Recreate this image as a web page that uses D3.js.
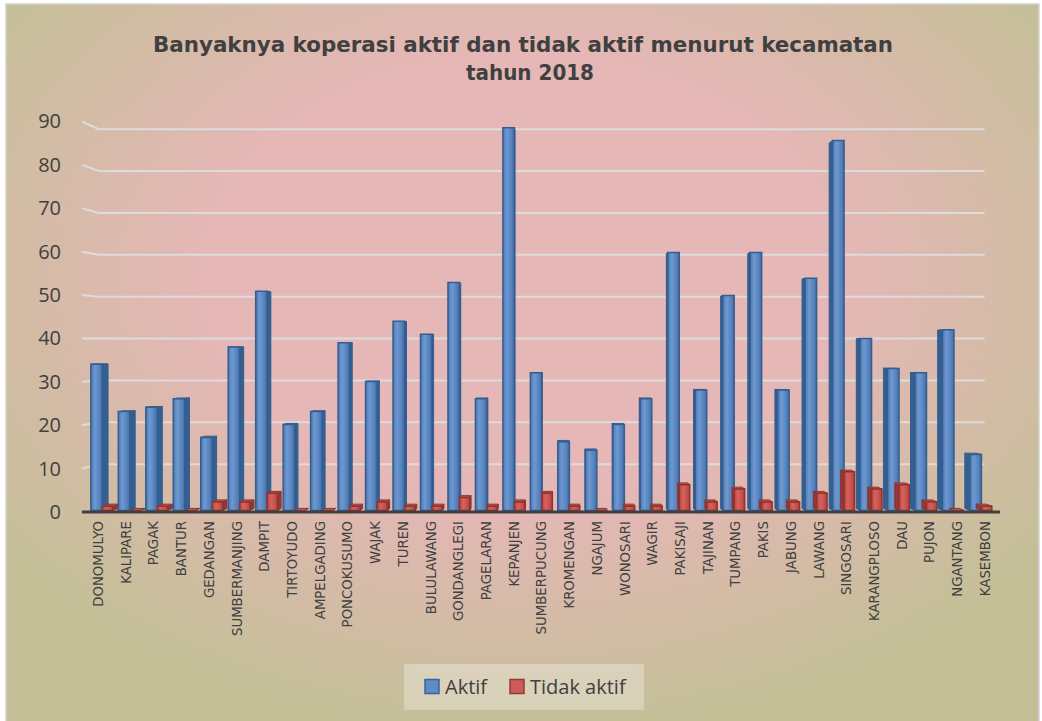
<!DOCTYPE html>
<html>
<head>
<meta charset="utf-8">
<script src="https://cdn.jsdelivr.net/npm/d3@7"></script>
<style>
  body { margin: 0; background: #fff; }
  text { font-family: "Open Sans", "DejaVu Sans", sans-serif; fill: #404040; }
</style>
</head>
<body>
<svg width="1042" height="721"></svg>
<script>
var kecamatan = ["DONOMULYO","KALIPARE","PAGAK","BANTUR","GEDANGAN","SUMBERMANJING","DAMPIT",
  "TIRTOYUDO","AMPELGADING","PONCOKUSUMO","WAJAK","TUREN","BULULAWANG","GONDANGLEGI",
  "PAGELARAN","KEPANJEN","SUMBERPUCUNG","KROMENGAN","NGAJUM","WONOSARI","WAGIR","PAKISAJI",
  "TAJINAN","TUMPANG","PAKIS","JABUNG","LAWANG","SINGOSARI","KARANGPLOSO","DAU","PUJON",
  "NGANTANG","KASEMBON"];
var aktif = [34,23,24,26,17,38,51,20,23,39,30,44,41,53,26,89,32,16,14,20,26,60,28,50,60,28,54,86,40,33,32,42,13];
var tidakAktif = [1,0,1,0,2,2,4,0,0,1,2,1,1,3,1,2,4,1,0,1,1,6,2,5,2,2,4,9,5,6,2,0,1];
var yTicks = [0,10,20,30,40,50,60,70,80,90];
var seriesNames = ["Aktif", "Tidak aktif"];

var width = 1042, height = 721;
var svg = d3.select("svg");

// simple perspective: vanishing point + depth factor
var CX = 560, CY = 341, K = 0.035;
function proj(X, Y, t) {
  var s = 1 - K * t;
  return [CX + (X - CX) * s, CY + (Y - CY) * s];
}

var x = d3.scaleBand().domain(kecamatan).range([84.5, 999]);
var y = d3.scaleLinear().domain([0, 90]).range([512, 121.5]);

var defs = svg.append("defs");
var bg = defs.append("radialGradient").attr("id", "bg")
  .attr("cx", "0.5").attr("cy", "0.38").attr("r", "0.62");
bg.append("stop").attr("offset", "0").attr("stop-color", "#e6b7b7");
bg.append("stop").attr("offset", "0.5").attr("stop-color", "#e5b7b6");
bg.append("stop").attr("offset", "1").attr("stop-color", "#c5bf98");

function barGrad(id, c0, c1, c2, c3) {
  var g = defs.append("linearGradient").attr("id", id);
  g.append("stop").attr("offset", "0").attr("stop-color", c0);
  g.append("stop").attr("offset", "0.35").attr("stop-color", c1);
  g.append("stop").attr("offset", "0.7").attr("stop-color", c2);
  g.append("stop").attr("offset", "1").attr("stop-color", c3);
}
barGrad("gBlue", "#4d79b3", "#6e98d0", "#5985c0", "#4470a8");
barGrad("gRed", "#b9443f", "#d6625e", "#c9524e", "#b3403b");

svg.append("rect")
  .attr("x", 6).attr("y", 4).attr("width", 1033).attr("height", 720)
  .attr("fill", "url(#bg)")
  .attr("stroke", "#d4d4d4").attr("stroke-width", 1.5);

// title
svg.append("text")
  .attr("x", 523).attr("y", 52)
  .attr("text-anchor", "middle")
  .style("font-family", "'DejaVu Sans Condensed', 'DejaVu Sans', sans-serif")
  .style("font-stretch", "condensed")
  .style("font-size", "22px").style("font-weight", "bold")
  .attr("textLength", 740).attr("lengthAdjust", "spacingAndGlyphs")
  .text("Banyaknya koperasi aktif dan tidak aktif menurut kecamatan");
svg.append("text")
  .attr("x", 530).attr("y", 80)
  .attr("text-anchor", "middle")
  .style("font-family", "'DejaVu Sans Condensed', 'DejaVu Sans', sans-serif")
  .style("font-stretch", "condensed")
  .style("font-size", "22px").style("font-weight", "bold")
  .attr("textLength", 128).attr("lengthAdjust", "spacingAndGlyphs")
  .text("tahun 2018");

// gridlines on back wall + left side wall
var grid = svg.append("g");
yTicks.filter(function (d) { return d > 0; }).forEach(function (v) {
  var f = [82, y(v)], b = proj(82, y(v), 1), e = proj(1000, y(v), 1);
  grid.append("polyline")
    .attr("points", [f, b, e].map(function (p) { return p.join(","); }).join(" "))
    .attr("fill", "none").attr("stroke", "#dcdcdc").attr("stroke-width", 2);
});

// y axis labels
var yAxis = svg.append("g")
  .attr("transform", "translate(61,0)")
  .call(d3.axisLeft(y).tickValues(yTicks).tickSize(0).tickPadding(0));
yAxis.select(".domain").remove();
yAxis.selectAll("text").style("font-size", "20px").attr("fill", "#404040")
  .style("font-family", "'Open Sans', sans-serif");

// bars
var T0 = 0.25, T1 = 0.6;
function pts(a) { return a.map(function (p) { return p.join(","); }).join(" "); }
function drawBox(g, X0, X1, v, front, side, top, edge) {
  var yb = y(0), yt = y(v);
  var midX = (X0 + X1) / 2;
  var sx = midX < CX ? X1 : X0;
  g.append("polygon")
    .attr("points", pts([proj(sx, yt, T0), proj(sx, yt, T1), proj(sx, yb, T1), proj(sx, yb, T0)]))
    .attr("fill", side).attr("stroke", edge).attr("stroke-width", 1);
  if (yt > CY) {
    g.append("polygon")
      .attr("points", pts([proj(X0, yt, T0), proj(X1, yt, T0), proj(X1, yt, T1), proj(X0, yt, T1)]))
      .attr("fill", top).attr("stroke", edge).attr("stroke-width", 1);
  }
  if (v > 0) {
    g.append("polygon")
      .attr("points", pts([proj(X0, yt, T0), proj(X1, yt, T0), proj(X1, yb, T0), proj(X0, yb, T0)]))
      .attr("fill", front).attr("stroke", edge).attr("stroke-width", 1.5);
  }
}

var bars = svg.append("g");
kecamatan.forEach(function (k, i) {
  var bx = x(k), bw = x.bandwidth();
  drawBox(bars, bx + bw * 0.08, bx + bw * 0.5, aktif[i], "url(#gBlue)", "#345f93", "#5b87c2", "#355d8e");
  drawBox(bars, bx + bw * 0.5, bx + bw * 0.88, tidakAktif[i], "url(#gRed)", "#963733", "#c75652", "#8b3531");
});

// floor front edge
svg.append("line")
  .attr("x1", 82).attr("x2", 1000).attr("y1", 512).attr("y2", 512)
  .attr("stroke", "#404040").attr("stroke-width", 3);

// x labels
var xAxis = svg.append("g")
  .attr("transform", "translate(0,521)")
  .call(d3.axisBottom(x).tickSize(0).tickPadding(0));
xAxis.select(".domain").remove();
xAxis.selectAll("text")
  .attr("transform", "rotate(-90)")
  .attr("x", 0).attr("y", 0).attr("dy", "0.35em")
  .style("text-anchor", "end")
  .style("font-size", "13.3px").attr("fill", "#404040")
  .style("font-family", "'DejaVu Sans', sans-serif");

// legend
var legend = svg.append("g");
legend.append("rect")
  .attr("x", 404).attr("y", 664).attr("width", 240).attr("height", 46)
  .attr("fill", "#ffffff").attr("fill-opacity", 0.3);
var legendX = [425, 510];
var legendFill = ["#5f8bc7", "#cd5b57"];
var legendEdge = ["#3a6496", "#943a36"];
seriesNames.forEach(function (n, i) {
  legend.append("rect")
    .attr("x", legendX[i]).attr("y", 679.5).attr("width", 14).attr("height", 14)
    .attr("fill", legendFill[i]).attr("stroke", legendEdge[i]).attr("stroke-width", 1.5);
  legend.append("text")
    .attr("x", legendX[i] + 20).attr("y", 694)
    .style("font-size", "20px")
    .text(n);
});
</script>
</body>
</html>
